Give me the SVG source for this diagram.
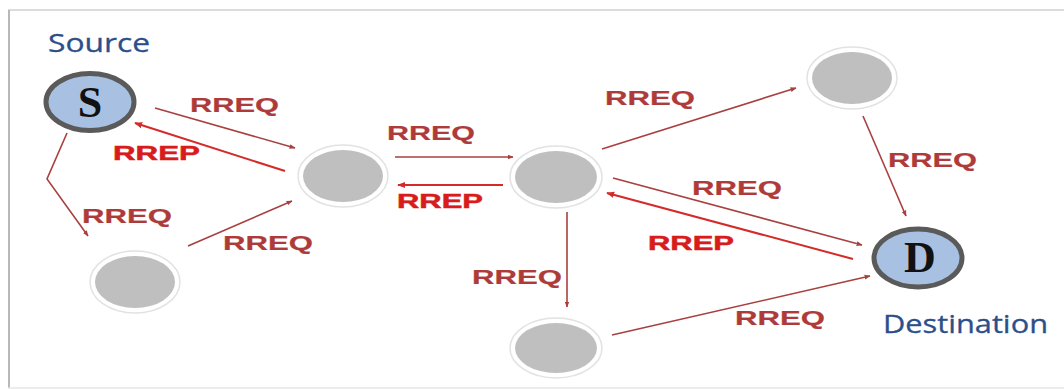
<svg xmlns="http://www.w3.org/2000/svg" width="1064" height="389" viewBox="0 0 1064 389">
  <defs>
    <style>
      .req { stroke: #a8403f; stroke-width: 1.6; fill: none; marker-end: url(#headReq); }
      .rep { stroke: #d42a2a; stroke-width: 2; fill: none; marker-end: url(#headRep); }
      .lblReq { font-family: "Liberation Sans", Arial, sans-serif; font-weight: bold; font-size: 20px; fill: #ae3a3a; stroke: #ae3a3a; stroke-width: 0.2; }
      .lblRep { font-family: "Liberation Sans", Arial, sans-serif; font-weight: bold; font-size: 20px; fill: #d81c1c; stroke: #d81c1c; stroke-width: 0.5; }
      .relay-ring { fill: #ffffff; stroke: #e2e2e2; stroke-width: 1.5; }
      .relay { fill: #bfbfbf; }
      .end { fill: #a8c1e2; stroke: #5a5a5a; stroke-width: 5; }
      .endLetter { font-family: "Liberation Serif", "Times New Roman", serif; font-weight: bold; font-size: 44px; fill: #111; text-anchor: middle; }
      .caption { font-family: "Open Sans", "Liberation Sans", sans-serif; font-size: 25px; fill: #2c4f8a; stroke: #2c4f8a; stroke-width: 0.3; }
    </style>
    <marker id="headReq" viewBox="0 0 10 10" refX="9" refY="5" markerWidth="6" markerHeight="6" markerUnits="userSpaceOnUse" orient="auto">
      <path d="M0,1 L10,5 L0,9 Z" fill="#a8403f"/>
    </marker>
    <marker id="headRep" viewBox="0 0 10 10" refX="9" refY="5" markerWidth="8" markerHeight="8" markerUnits="userSpaceOnUse" orient="auto">
      <path d="M0,1 L10,5 L0,9 Z" fill="#d42a2a"/>
    </marker>
  </defs>

  <!-- page background and frame -->
  <rect x="0" y="0" width="1064" height="389" fill="#ffffff"/>
  <line x1="8" y1="10" x2="1064" y2="10" stroke="#dcdcdc" stroke-width="2"/>
  <line x1="9" y1="10" x2="9" y2="388" stroke="#b8b8b8" stroke-width="2"/>
  <line x1="8" y1="388" x2="1064" y2="388" stroke="#e6e6e6" stroke-width="1.5"/>

  <!-- connectors -->
  <g id="connectors">
    <line class="req" x1="155" y1="108" x2="295" y2="148"/>
    <line class="rep" x1="285" y1="171" x2="135" y2="123"/>
    <polyline class="req" points="67,133 47,179 88,236"/>
    <line class="req" x1="188" y1="246" x2="292" y2="201"/>
    <line class="req" x1="395" y1="157" x2="513" y2="157"/>
    <line class="rep" x1="503" y1="185" x2="398" y2="185"/>
    <line class="req" x1="602" y1="149" x2="796" y2="88"/>
    <line class="req" x1="863" y1="116" x2="906" y2="216"/>
    <line class="req" x1="613" y1="178" x2="862" y2="245"/>
    <line class="rep" x1="853" y1="259" x2="607" y2="193"/>
    <line class="req" x1="567" y1="212" x2="567" y2="307"/>
    <line class="req" x1="612" y1="335" x2="870" y2="276"/>
  </g>

  <!-- connector labels -->
  <g id="labels">
    <text class="lblReq" x="190" y="112" textLength="89" lengthAdjust="spacingAndGlyphs">RREQ</text>
    <text class="lblRep" x="113" y="160" textLength="87" lengthAdjust="spacingAndGlyphs">RREP</text>
    <text class="lblReq" x="82" y="223" textLength="90" lengthAdjust="spacingAndGlyphs">RREQ</text>
    <text class="lblReq" x="223" y="250" textLength="90" lengthAdjust="spacingAndGlyphs">RREQ</text>
    <text class="lblReq" x="387" y="140" textLength="88" lengthAdjust="spacingAndGlyphs">RREQ</text>
    <text class="lblRep" x="397" y="208" textLength="86" lengthAdjust="spacingAndGlyphs">RREP</text>
    <text class="lblReq" x="605" y="105" textLength="90" lengthAdjust="spacingAndGlyphs">RREQ</text>
    <text class="lblReq" x="888" y="167" textLength="89" lengthAdjust="spacingAndGlyphs">RREQ</text>
    <text class="lblReq" x="692" y="195" textLength="90" lengthAdjust="spacingAndGlyphs">RREQ</text>
    <text class="lblRep" x="648" y="250" textLength="86" lengthAdjust="spacingAndGlyphs">RREP</text>
    <text class="lblReq" x="472" y="284" textLength="90" lengthAdjust="spacingAndGlyphs">RREQ</text>
    <text class="lblReq" x="735" y="325" textLength="90" lengthAdjust="spacingAndGlyphs">RREQ</text>
  </g>

  <!-- source node -->
  <g id="node-source">
    <text class="caption" x="48" y="52" textLength="102" lengthAdjust="spacingAndGlyphs">Source</text>
    <ellipse class="end" cx="90" cy="102" rx="44" ry="28.5"/>
    <text class="endLetter" x="90" y="117">S</text>
  </g>

  <!-- relay nodes -->
  <g id="node-relay-1">
    <ellipse class="relay-ring" cx="343" cy="176" rx="45" ry="31"/>
    <ellipse class="relay" cx="343" cy="176" rx="40" ry="26"/>
  </g>
  <g id="node-relay-2">
    <ellipse class="relay-ring" cx="135" cy="282" rx="45" ry="31"/>
    <ellipse class="relay" cx="135" cy="282" rx="40" ry="26"/>
  </g>
  <g id="node-relay-3">
    <ellipse class="relay-ring" cx="556" cy="177" rx="46" ry="31"/>
    <ellipse class="relay" cx="556" cy="177" rx="41" ry="26"/>
  </g>
  <g id="node-relay-4">
    <ellipse class="relay-ring" cx="852" cy="78" rx="45" ry="31"/>
    <ellipse class="relay" cx="852" cy="78" rx="40" ry="26"/>
  </g>
  <g id="node-relay-5">
    <ellipse class="relay-ring" cx="556" cy="348" rx="46" ry="30"/>
    <ellipse class="relay" cx="556" cy="348" rx="41" ry="25"/>
  </g>

  <!-- destination node -->
  <g id="node-destination">
    <ellipse class="end" cx="918" cy="258" rx="44" ry="29"/>
    <text class="endLetter" x="920" y="272">D</text>
    <text class="caption" x="883" y="333" textLength="165" lengthAdjust="spacingAndGlyphs">Destination</text>
  </g>
</svg>
